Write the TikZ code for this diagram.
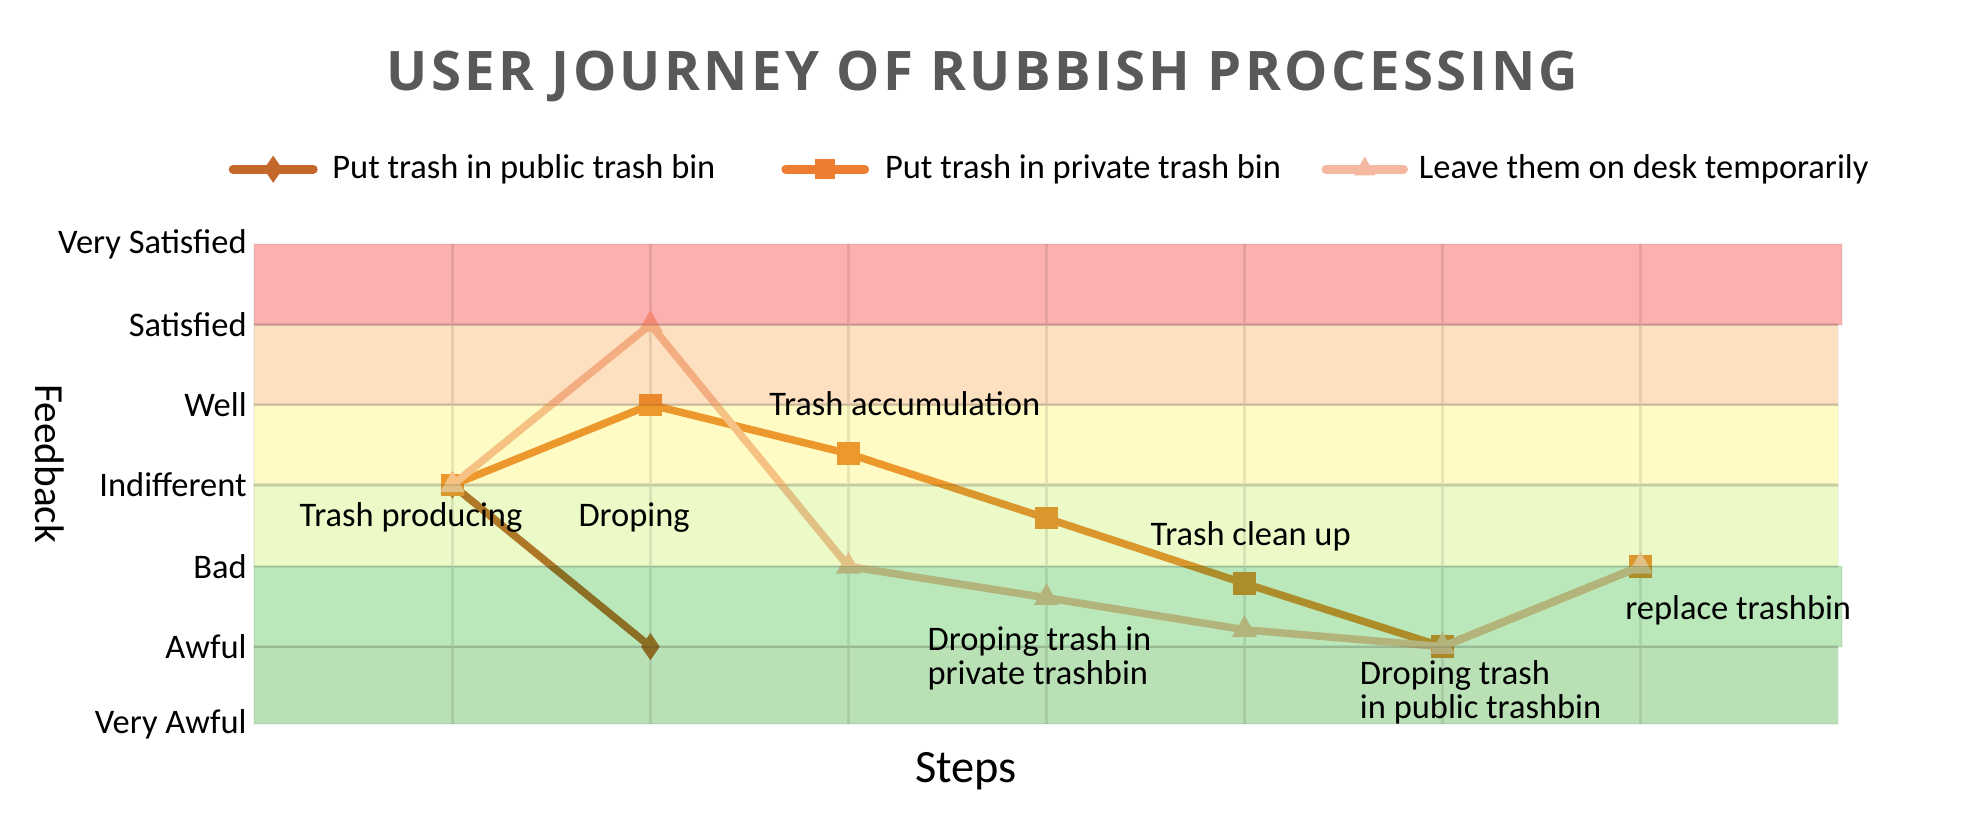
\documentclass[tikz,border=0pt]{standalone}
\usepackage{fontspec}
\setmainfont{Carlito}
\newfontfamily\titlefont[LetterSpace=6]{Open Sans}
\usetikzlibrary{shapes.geometric}

\definecolor{bandvs}{RGB}{253,176,176}
\definecolor{bands}{RGB}{253,224,192}
\definecolor{bandw}{RGB}{255,251,197}
\definecolor{bandi}{RGB}{235,250,199}
\definecolor{bandb}{RGB}{187,232,186}
\definecolor{banda}{RGB}{186,224,182}
\definecolor{pubcol}{RGB}{196,103,42}
\definecolor{privcol}{RGB}{237,125,49}
\definecolor{deskcol}{RGB}{244,185,160}
\definecolor{publine}{RGB}{190,123,52}
\definecolor{privline}{RGB}{236,155,58}
\definecolor{deskline}{RGB}{245,198,170}
\definecolor{gridgray}{RGB}{232,232,232}
\definecolor{titlegray}{RGB}{89,89,89}

\begin{document}
\begin{tikzpicture}[x=1pt,y=-1pt,
	lbl/.style={font=\fontsize{27.5}{27}\selectfont},
	tick/.style={lbl,anchor=east,inner sep=0pt},
	band/.style={draw=black,draw opacity=0.05,line width=1.5pt},
	gridline/.style={draw=gridgray,line width=2.5pt},
	series/.style={line width=6pt,line join=round},
	legline/.style={line width=7pt,line cap=round},
	dmark/.style={diamond,fill=#1,inner sep=0pt,minimum width=15pt,minimum height=22pt},
	smark/.style={rectangle,fill=#1,inner sep=0pt,minimum size=18pt},
	tmark/.style={regular polygon,regular polygon sides=3,fill=#1,inner sep=0pt,minimum size=23pt},
	]
	
	\fill[white] (0,0) rectangle (1568,661.5);
	\useasboundingbox (0,0) rectangle (1568,661.5);
	
	% grid
	\foreach \gx in {361,519,677,835,993,1151,1309}
		\draw[gridline] (\gx,195) -- (\gx,578);
	\foreach \gy in {259,323,387,452,516}
		\draw[gridline] (203,\gy) -- (1467,\gy);
	
	% data points
	\coordinate (pu1) at (361,387);
	\coordinate (pu2) at (519,516);
	
	\coordinate (pr1) at (361,387);
	\coordinate (pr2) at (519,323);
	\coordinate (pr3) at (677,362);
	\coordinate (pr4) at (835,413.5);
	\coordinate (pr5) at (993,465.5);
	\coordinate (pr6) at (1151,516);
	\coordinate (pr7) at (1309,452);
	
	\coordinate (de1) at (361,387);
	\coordinate (de2) at (519,259);
	\coordinate (de3) at (677,452);
	\coordinate (de4) at (835,477);
	\coordinate (de5) at (993,502.5);
	\coordinate (de6) at (1151,516);
	\coordinate (de7) at (1309,452);
	
	\draw[series,publine] (pu1) -- (pu2);
	\node[dmark=publine] (mpu1) at (pu1) {};
	\node[dmark=publine] (mpu2) at (pu2) {};
	
	\draw[series,privline] (pr1) -- (pr2) -- (pr3) -- (pr4) -- (pr5) -- (pr6) -- (pr7);
	\node[smark=privline] (mpr1) at (pr1) {};
	\node[smark=privline] (mpr2) at (pr2) {};
	\node[smark=privline] (mpr3) at (pr3) {};
	\node[smark=privline] (mpr4) at (pr4) {};
	\node[smark=privline] (mpr5) at (pr5) {};
	\node[smark=privline] (mpr6) at (pr6) {};
	\node[smark=privline] (mpr7) at (pr7) {};
	
	\draw[series,deskline] (de1) -- (de2) -- (de3) -- (de4) -- (de5) -- (de6) -- (de7);
	\node[tmark=deskline] (mde1) at (de1) {};
	\node[tmark=deskline] (mde2) at (de2) {};
	\node[tmark=deskline] (mde3) at (de3) {};
	\node[tmark=deskline] (mde4) at (de4) {};
	\node[tmark=deskline] (mde5) at (de5) {};
	\node[tmark=deskline] (mde6) at (de6) {};
	\node[tmark=deskline] (mde7) at (de7) {};
	
	% bands, laid over the lines
	\begin{scope}[blend mode=multiply]
	\fill[bandvs,band] (203,195) rectangle (1470,259);
	\fill[bands,band] (203,259) rectangle (1467,323);
	\fill[bandw,band] (203,323) rectangle (1467,387);
	\fill[bandi,band] (203,387) rectangle (1467,452);
	\fill[bandb,band] (203,452) rectangle (1470,516);
	\fill[banda,band] (203,516) rectangle (1467,578);
	\end{scope}
	
	% axis labels
	\node[tick] (vs) at (197,195) {Very Satisfied};
	\node[tick] (sa) at (197,259) {Satisfied};
	\node[tick] (we) at (197,323) {Well};
	\node[tick] (in) at (197,387) {Indifferent};
	\node[tick] (ba) at (197,452) {Bad};
	\node[tick] (aw) at (197,516) {Awful};
	\node[tick] (va) at (197,578) {Very Awful};
	
	\node[font=\fontsize{33}{33}\selectfont,rotate=-90] (feedback) at (40,370) {Feedback};
	\node[font=\fontsize{37}{37}\selectfont] (steps) at (771,615) {Steps};
	
	\node[font=\titlefont\bfseries\fontsize{43.5}{43.5}\selectfont,text=titlegray] (title) at (784,61) {USER JOURNEY OF RUBBISH PROCESSING};
	
	% step labels
	\node[lbl] (producing) at (328,413) {Trash producing};
	\node[lbl] (droping) at (506,413) {Droping};
	\node[lbl] (accum) at (722,322) {Trash accumulation};
	\node[lbl] (cleanup) at (998,428) {Trash clean up};
	\node[lbl,align=left,anchor=north west,inner sep=0pt] (dropprivate) at (740,500) {Droping trash in\\private trashbin};
	\node[lbl,align=left,anchor=north west,inner sep=0pt] (droppublic) at (1085,527) {Droping trash\\in public trashbin};
	\node[lbl] (replace) at (1387,487) {replace trashbin};
	
	% legend
	\coordinate (lga) at (186,135);
	\coordinate (lgb) at (250,135);
	\draw[legline,pubcol] (lga) -- (lgb);
	\node[dmark=pubcol] (lgm1) at (218,135) {};
	\node[lbl,anchor=west,inner sep=0pt] (lgt1) at (265,135) {Put trash in public trash bin};
	
	\coordinate (lgc) at (627,135);
	\coordinate (lgd) at (690,135);
	\draw[legline,privcol] (lgc) -- (lgd);
	\node[smark=privcol,minimum size=16pt] (lgm2) at (658,135) {};
	\node[lbl,anchor=west,inner sep=0pt] (lgt2) at (706,135) {Put trash in private trash bin};
	
	\coordinate (lge) at (1058,135);
	\coordinate (lgf) at (1120,135);
	\draw[legline,deskcol] (lge) -- (lgf);
	\node[tmark=deskcol,minimum size=20pt] (lgm3) at (1089,135) {};
	\node[lbl,anchor=west,inner sep=0pt] (lgt3) at (1132,135) {Leave them on desk temporarily};
	
\end{tikzpicture}
\end{document}
